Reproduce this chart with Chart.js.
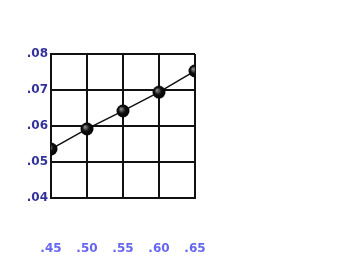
<!DOCTYPE html>
<html>
<head>
<meta charset="utf-8">
<script src="https://cdn.jsdelivr.net/npm/chart.js@4"></script>
<style>
  body { margin: 0; background: #fff; }
  #wrap { position: relative; width: 338px; height: 278px; }
</style>
</head>
<body>
<div id="wrap"><canvas id="myChart"></canvas></div>
<script>
const xValues = [0.45, 0.50, 0.55, 0.60, 0.65];
const yValues = [0.0536, 0.0592, 0.0642, 0.0694, 0.0753];
const yTicks = [0.04, 0.05, 0.06, 0.07, 0.08];

function shortLabel(v) {
    return v.toFixed(2).replace(/^0/, "");
}

// small shaded ball used as the point marker
function makeBall() {
    const size = 14;
    const c = document.createElement("canvas");
    c.width = size;
    c.height = size;
    const g = c.getContext("2d");
    const grad = g.createRadialGradient(5, 5, 0.5, 7, 7, 7);
    grad.addColorStop(0, "#888");
    grad.addColorStop(0.45, "#111");
    grad.addColorStop(1, "#000");
    g.fillStyle = grad;
    g.beginPath();
    g.arc(7, 7, 6.5, 0, Math.PI * 2);
    g.fill();
    return c;
}

const ctx = document.getElementById("myChart").getContext("2d");

new Chart(ctx, {
    type: "line",
    data: {
        datasets: [{
            data: xValues.map((x, i) => ({ x: x, y: yValues[i] })),
            borderColor: "#111",
            borderWidth: 1.5,
            pointStyle: makeBall(),
            pointRadius: 6,
            tension: 0
        }]
    },
    options: {
        responsive: true,
        maintainAspectRatio: false,
        animation: false,
        layout: { padding: { left: 24, right: 143, top: 54, bottom: 22 } },
        plugins: { legend: { display: false }, tooltip: { enabled: false } },
        scales: {
            x: {
                type: "linear",
                min: 0.45,
                max: 0.65,
                afterBuildTicks: axis => { axis.ticks = xValues.map(v => ({ value: v })); },
                afterFit: axis => { axis.height = 58; axis.paddingLeft = 0; axis.paddingRight = 0; },
                grid: { color: "#111", lineWidth: 2, drawTicks: false },
                border: { color: "#111", width: 2 },
                ticks: {
                    padding: 44,
                    maxRotation: 0,
                    autoSkip: false,
                    color: "#6666ee",
                    font: { family: "DejaVu Sans", size: 12, weight: "bold" },
                    callback: v => shortLabel(v)
                }
            },
            y: {
                min: 0.04,
                max: 0.08,
                afterBuildTicks: axis => { axis.ticks = yTicks.map(v => ({ value: v })); },
                afterFit: axis => { axis.width = 27; },
                grid: { color: "#111", lineWidth: 2, drawTicks: false },
                border: { color: "#111", width: 2 },
                ticks: {
                    padding: 3,
                    color: "#333399",
                    font: { family: "DejaVu Sans", size: 12, weight: "bold" },
                    callback: v => shortLabel(v)
                }
            }
        }
    }
});
</script>
</body>
</html>
